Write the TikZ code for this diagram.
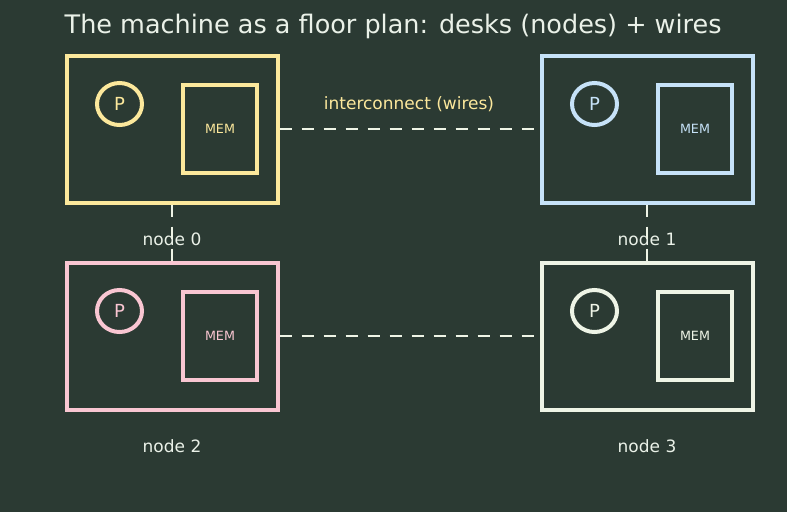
\documentclass[tikz,border=0pt]{standalone}
\usepackage{fontspec}
\setmainfont{DejaVu Sans}
\usepackage{tikz}
\usetikzlibrary{shapes.geometric}

\definecolor{bgcol}{HTML}{2B3A33}
\definecolor{deskA}{HTML}{FCE89C}
\definecolor{deskB}{HTML}{C6E2F8}
\definecolor{deskC}{HTML}{F9C6D2}
\definecolor{deskD}{HTML}{EEF4E6}
\definecolor{txtcol}{HTML}{EAF1E8}

\begin{document}
\begin{tikzpicture}[x=1pt, y=-1pt,
  desk/.style={rectangle,draw,line width=4pt,minimum width=211pt,minimum height=147pt,inner sep=0pt},
  proc/.style={ellipse,draw,line width=4pt,minimum width=45pt,minimum height=42pt,inner sep=0pt,font=\fontsize{18}{20}\selectfont},
  mem/.style={rectangle,draw,line width=4pt,minimum width=73.5pt,minimum height=87.5pt,inner sep=0pt,font=\fontsize{12.7}{14}\selectfont},
  wire/.style={draw=deskD,line width=2.8pt,dash pattern=on 12pt off 10pt},
  lbl/.style={text=txtcol,font=\fontsize{17}{20}\selectfont}]

% Background and frame
\fill[bgcol] (0,0) rectangle (787,512);
\useasboundingbox (0,0) rectangle (787,512);

% Title
\node[anchor=base west,inner sep=0pt,text=txtcol,font=\fontsize{25.5}{30}\selectfont] at (64.5,33.5) (title) {The machine as a floor plan: desks (nodes) + wires};

% Desks: box, processor, memory, label
\foreach \i/\x/\y/\c in {0/172/129/deskA, 1/647/129/deskB, 2/172/336/deskC, 3/647/336/deskD} {
  \node[desk,draw=\c] at (\x,\y) (n\i) {};
  \node[proc,draw=\c,text=\c] at (\x-52.5,\y-25) (p\i) {P};
  \node[mem,draw=\c,text=\c] at (\x+48,\y) (m\i) {MEM};
  \node[lbl] at (\x,\y+110) (l\i) {node \i};
}

% Wires between desks
\draw[wire] (n0) -- (n1);
\draw[wire] (n2) -- (n3);
\draw[wire] (n0) -- (n2);
\draw[wire] (n1) -- (n3);

% Wire caption
\node[text=deskA,font=\fontsize{17}{20}\selectfont] at (409,104) (wirelbl) {interconnect (wires)};

\end{tikzpicture}
\end{document}
